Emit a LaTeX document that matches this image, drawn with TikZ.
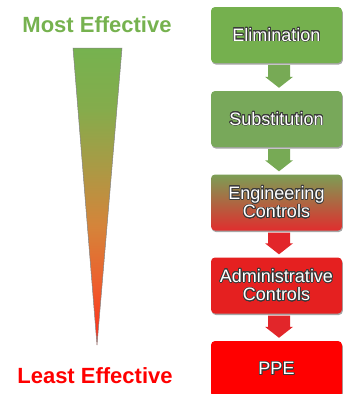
\documentclass[tikz,border=0pt]{standalone}
\usepackage{fontspec}
\setmainfont{Liberation Sans}
\usepackage{contour}
\contourlength{0.75pt}
\contournumber{24}
\usetikzlibrary{calc,shadows}
\definecolor{effgreen}{HTML}{76B24F}
\definecolor{effred}{HTML}{FF0000}
\definecolor{elimg}{HTML}{75B04E}
\definecolor{subsg}{HTML}{78A85A}
\definecolor{arrg}{HTML}{77AA55}
\definecolor{engtop}{HTML}{7C9E55}
\definecolor{engbot}{HTML}{E02E2E}
\definecolor{admred}{HTML}{E52020}
\definecolor{arrr}{HTML}{E2262A}
\definecolor{outl}{HTML}{3A3A3A}
\definecolor{tg0}{HTML}{76B24F}
\definecolor{tg1}{HTML}{84AC4C}
\definecolor{tg2}{HTML}{AA9A45}
\definecolor{tg3}{HTML}{D5843A}
\definecolor{tg4}{HTML}{EE5E2C}
\definecolor{tg5}{HTML}{FF2A1A}
\pgfdeclareverticalshading{trishade}{100bp}{color(0bp)=(tg5); color(25bp)=(tg5);
  color(35bp)=(tg4); color(45bp)=(tg3); color(55bp)=(tg2); color(65bp)=(tg1);
  color(75bp)=(tg0); color(100bp)=(tg0)}
\newcommand\boxtext[1]{\contour{outl}{#1}}
\newcommand\flowarrow[3]{%
  \fill[#3] ($(#1.south)+(-11+2.5,2)$) -- ($(#1.south)+(11+2.5,2)$)
    -- ($(#2.north)+(11+2.5,-14)$) -- ($(#2.north)+(14+2.5,-14)$)
    -- ($(#2.north)+(2.5,-3)$) -- ($(#2.north)+(-14+2.5,-14)$)
    -- ($(#2.north)+(-11+2.5,-14)$) -- cycle;}
\begin{document}
\begin{tikzpicture}[x=1pt,y=-1pt,
  hbox/.style={rounded corners=4pt, minimum width=131pt, minimum height=56pt,
    inner sep=0pt, align=center, text=white,
    font=\fontsize{18}{18.5}\selectfont,
    drop shadow={shadow xshift=0.8pt, shadow yshift=-1.5pt, opacity=0.35, fill=black}},
  effl/.style={font=\bfseries\fontsize{22}{24}\selectfont}]
\useasboundingbox (0,0) rectangle (343,394);
\node[effl, text=effgreen] (most) at (97,25) {Most Effective};
\node[effl, text=effred] (least) at (95,376) {Least Effective};
\shade[shading=trishade, draw={rgb,255:red,130;green,130;blue,130}, line width=0.5pt]
  (73,48) -- (122,48) -- (97,345) -- cycle;
\node[hbox, fill=elimg] (elim) at (276.5,35) {\boxtext{Elimination}};
\node[hbox, fill=subsg] (subs) at (276.5,119) {\boxtext{Substitution}};
\node[hbox, top color=engtop, bottom color=engbot] (eng) at (276.5,202.5)
  {\boxtext{Engineering}\\\boxtext{Controls}};
\node[hbox, fill=admred] (adm) at (276.5,285.5)
  {\boxtext{Administrative}\\\boxtext{Controls}};
\node[hbox, fill=effred] (ppe) at (276.5,369) {\boxtext{PPE}};
\flowarrow{elim}{subs}{arrg}
\flowarrow{subs}{eng}{arrg}
\flowarrow{eng}{adm}{arrr}
\flowarrow{adm}{ppe}{arrr}
\end{tikzpicture}
\end{document}
